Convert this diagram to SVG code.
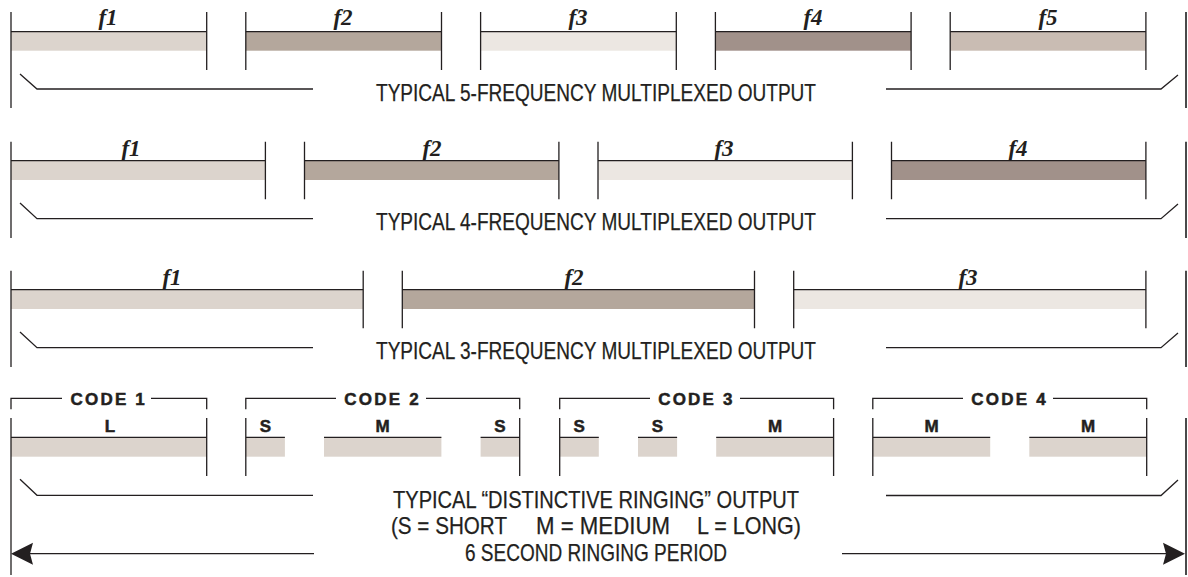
<svg xmlns="http://www.w3.org/2000/svg" width="1188" height="577" viewBox="0 0 1188 577">
<style>
.ln{stroke:#231f20;stroke-width:1.3;fill:none}
.rv{stroke:#4a4a4a;stroke-width:2;fill:none}
.cap{font-family:"Liberation Sans Narrow","Liberation Sans",Arial,sans-serif;font-size:24px;fill:#231f20;stroke:#231f20;stroke-width:0.25}
.fl{font-family:"Liberation Serif","Times New Roman",serif;font-size:23px;font-weight:bold;font-style:italic;fill:#231f20;text-anchor:middle}
.cl{font-family:"Liberation Sans",Arial,sans-serif;font-size:17px;font-weight:bold;fill:#231f20;stroke:#231f20;stroke-width:0.5;text-anchor:middle}
.cd{font-family:"Liberation Sans",Arial,sans-serif;font-size:17px;font-weight:bold;fill:#231f20;stroke:#231f20;stroke-width:0.5;letter-spacing:2.2px}
.c1{fill:#dcd4cd}.c2{fill:#b4a79c}.c3{fill:#ece7e2}.c4{fill:#a1918a}.c5{fill:#c9bcb3}
</style>
<defs>
<path id="ahL" d="M0 0 L22 -11 L19 0 L22 11 Z" fill="#231f20"/>
</defs>

<g id="row5">
  <rect class="c1" x="11" y="31.7" width="195.7" height="19"/>
  <rect class="c2" x="245.8" y="31.7" width="195.7" height="19"/>
  <rect class="c3" x="480.6" y="31.7" width="195.7" height="19"/>
  <rect class="c4" x="715.4" y="31.7" width="195.7" height="19"/>
  <rect class="c5" x="950.2" y="31.7" width="195.7" height="19"/>
  <path class="ln" d="M11 31.7H206.7M245.8 31.7H441.5M480.6 31.7H676.3M715.4 31.7H911.1M950.2 31.7H1145.9"/>
  <path class="ln" d="M11 12V108M206.7 12V70M245.8 12V70M441.5 12V70M480.6 12V70M676.3 12V70M715.4 12V70M911.1 12V70M950.2 12V70M1145.9 12V70"/>
  <path class="rv" d="M1186 12V108"/>
  <path class="ln" d="M20 74L37 89H313M886 89H1161L1178 75"/>
  <text class="fl" x="108" y="25">f1</text>
  <text class="fl" x="343" y="25">f2</text>
  <text class="fl" x="578" y="25">f3</text>
  <text class="fl" x="813" y="25">f4</text>
  <text class="fl" x="1048" y="25">f5</text>
  <text class="cap" x="376" y="100.5" textLength="440" lengthAdjust="spacingAndGlyphs">TYPICAL 5-FREQUENCY MULTIPLEXED OUTPUT</text>
</g>

<g id="row4">
  <rect class="c1" x="11" y="160.7" width="254.4" height="19.3"/>
  <rect class="c2" x="304.5" y="160.7" width="254.4" height="19.3"/>
  <rect class="c3" x="598" y="160.7" width="254.4" height="19.3"/>
  <rect class="c4" x="891.5" y="160.7" width="254.4" height="19.3"/>
  <path class="ln" d="M11 160.7H265.4M304.5 160.7H558.9M598 160.7H852.4M891.5 160.7H1145.9"/>
  <path class="ln" d="M11 141.7V238M265.4 141.7V199.3M304.5 141.7V199.3M558.9 141.7V199.3M598 141.7V199.3M852.4 141.7V199.3M891.5 141.7V199.3M1145.9 141.7V199.3"/>
  <path class="rv" d="M1186 141.7V238"/>
  <path class="ln" d="M20 203L37 218.7H313M886 218.7H1161L1178 204"/>
  <text class="fl" x="131" y="156">f1</text>
  <text class="fl" x="432" y="156">f2</text>
  <text class="fl" x="724" y="156">f3</text>
  <text class="fl" x="1018" y="156">f4</text>
  <text class="cap" x="376" y="230" textLength="440" lengthAdjust="spacingAndGlyphs">TYPICAL 4-FREQUENCY MULTIPLEXED OUTPUT</text>
</g>

<g id="row3">
  <rect class="c1" x="11" y="289.7" width="352.2" height="19.3"/>
  <rect class="c2" x="402.3" y="289.7" width="352.2" height="19.3"/>
  <rect class="c3" x="793.7" y="289.7" width="352.2" height="19.3"/>
  <path class="ln" d="M11 289.7H363.2M402.3 289.7H754.5M793.7 289.7H1145.9"/>
  <path class="ln" d="M11 270.7V367M363.2 270.7V328.3M402.3 270.7V328.3M754.5 270.7V328.3M793.7 270.7V328.3M1145.9 270.7V328.3"/>
  <path class="rv" d="M1186 270.7V367"/>
  <path class="ln" d="M20 332L37 347.7H313M886 347.7H1161L1178 333"/>
  <text class="fl" x="172" y="285">f1</text>
  <text class="fl" x="574" y="285">f2</text>
  <text class="fl" x="968" y="285">f3</text>
  <text class="cap" x="376" y="359" textLength="440" lengthAdjust="spacingAndGlyphs">TYPICAL 3-FREQUENCY MULTIPLEXED OUTPUT</text>
</g>

<g id="code1">
  <path class="ln" d="M11 409.3V398.3H62M151 398.3H206.7V409.3"/>
  <text class="cd" x="70.5" y="404.5">CODE 1</text>
  <rect class="c1" x="11" y="437.3" width="195.7" height="19.4"/>
  <path class="ln" d="M11 437.3H206.7M206.7 418V476"/>
  <text class="cl" x="110" y="432">L</text>
</g>

<g id="code2">
  <path class="ln" d="M245.8 409.3V398.3H336M426 398.3H519.7V409.3"/>
  <text class="cd" x="344.3" y="404.5">CODE 2</text>
  <rect class="c1" x="245.8" y="437.3" width="39.1" height="19.4"/>
  <rect class="c1" x="324" y="437.3" width="117.4" height="19.4"/>
  <rect class="c1" x="480.6" y="437.3" width="39.1" height="19.4"/>
  <path class="ln" d="M245.8 437.3H284.9M324 437.3H441.4M480.6 437.3H519.7M245.8 418V476M519.7 418V476"/>
  <text class="cl" x="265.3" y="432">S</text>
  <text class="cl" x="382.7" y="432">M</text>
  <text class="cl" x="500" y="432">S</text>
</g>

<g id="code3">
  <path class="ln" d="M559.7 409.3V398.3H650M740 398.3H833.6V409.3"/>
  <text class="cd" x="658.2" y="404.5">CODE 3</text>
  <rect class="c1" x="559.7" y="437.3" width="39.1" height="19.4"/>
  <rect class="c1" x="638" y="437.3" width="39.1" height="19.4"/>
  <rect class="c1" x="716.2" y="437.3" width="117.4" height="19.4"/>
  <path class="ln" d="M559.7 437.3H598.8M638 437.3H677.1M716.2 437.3H833.6M559.7 418V476M833.6 418V476"/>
  <text class="cl" x="579.2" y="432">S</text>
  <text class="cl" x="657.5" y="432">S</text>
  <text class="cl" x="775" y="432">M</text>
</g>

<g id="code4">
  <path class="ln" d="M872.8 409.3V398.3H963M1053 398.3H1146.7V409.3"/>
  <text class="cd" x="971.3" y="404.5">CODE 4</text>
  <rect class="c1" x="872.8" y="437.3" width="117.4" height="19.4"/>
  <rect class="c1" x="1029.3" y="437.3" width="117.4" height="19.4"/>
  <path class="ln" d="M872.8 437.3H990.2M1029.3 437.3H1146.7M872.8 418V476M1146.7 418V476"/>
  <text class="cl" x="931.5" y="432">M</text>
  <text class="cl" x="1088" y="432">M</text>
</g>

<g id="ringing">
  <path class="ln" d="M11 418V575"/>
  <path class="rv" d="M1186 418V575"/>
  <path class="ln" d="M20 479.3L37 495.3H313M886 495.5H1161L1178 480"/>
  <text class="cap" x="393" y="507.5" textLength="406" lengthAdjust="spacingAndGlyphs">TYPICAL “DISTINCTIVE RINGING” OUTPUT</text>
  <text class="cap" x="391" y="534" textLength="116" lengthAdjust="spacingAndGlyphs">(S = SHORT</text>
  <text class="cap" x="536" y="534" textLength="134" lengthAdjust="spacingAndGlyphs">M = MEDIUM</text>
  <text class="cap" x="697" y="534" textLength="104" lengthAdjust="spacingAndGlyphs">L = LONG)</text>
  <text class="cap" x="465" y="560.5" textLength="262" lengthAdjust="spacingAndGlyphs">6 SECOND RINGING PERIOD</text>
</g>

<g id="connectors">
  <path class="ln" d="M30 553.7H314M842 553.7H1167"/>
  <use href="#ahL" transform="translate(11 553.7)"/>
  <use href="#ahL" transform="translate(1185 553.7) scale(-1 1)"/>
</g>
</svg>
